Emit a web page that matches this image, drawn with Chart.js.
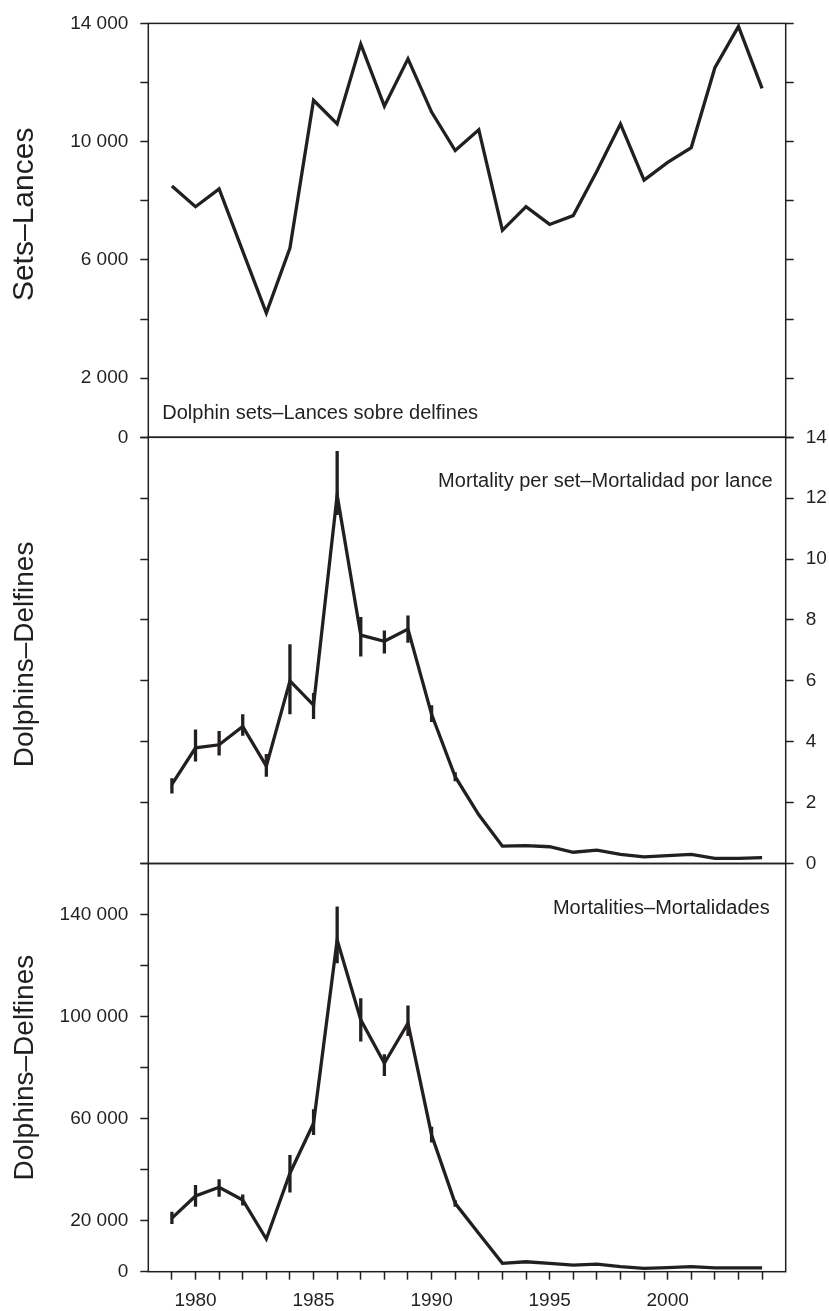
<!DOCTYPE html>
<html>
<head>
<meta charset="utf-8">
<script src="https://cdn.jsdelivr.net/npm/chart.js@4.4.1/dist/chart.umd.min.js"></script>
<style>
body { margin: 0; background: #fff; }
#wrap { position: relative; width: 829px; height: 1311px; }
canvas { position: absolute; left: 0; top: 0; }
</style>
</head>
<body>
<div id="wrap">
  <canvas id="setsChart" width="829" height="1311"></canvas>
  <canvas id="perSetChart" width="829" height="1311"></canvas>
  <canvas id="mortChart" width="829" height="1311"></canvas>
</div>
<script>
var years = [1979, 1980, 1981, 1982, 1983, 1984, 1985, 1986, 1987, 1988, 1989, 1990, 1991,
             1992, 1993, 1994, 1995, 1996, 1997, 1998, 1999, 2000, 2001, 2002, 2003, 2004];

// dolphin sets per year
var sets = [8500, 7800, 8400, 6300, 4200, 6400, 11400, 10600, 13300, 11200, 12800, 11000, 9700,
            10400, 7000, 7800, 7200, 7500, 9000, 10600, 8700, 9300, 9800, 12500, 13900, 11800];

// mortality per set, with error bar ends
var perSet = [2.6, 3.8, 3.9, 4.5, 3.2, 6.0, 5.2, 12.1, 7.5, 7.3, 7.7, 4.9, 2.85,
              1.6, 0.57, 0.59, 0.55, 0.37, 0.44, 0.3, 0.22, 0.26, 0.3, 0.17, 0.17, 0.19];
var perSetLow = [2.3, 3.35, 3.55, 4.2, 2.85, 4.9, 4.75, 11.45, 6.8, 6.9, 7.25, 4.65, 2.7,
                 null, null, null, null, null, null, null, null, null, null, null, null, null];
var perSetHigh = [2.8, 4.4, 4.35, 4.9, 3.6, 7.2, 5.6, 13.55, 8.1, 7.65, 8.15, 5.2, 3.0,
                  null, null, null, null, null, null, null, null, null, null, null, null, null];

// total mortalities, with error bar ends
var mortalities = [21000, 29700, 33100, 28100, 12800, 38600, 58200, 130000, 98700, 81700, 97400, 53600, 26800,
                   15000, 3300, 3900, 3300, 2600, 3000, 2000, 1300, 1600, 2000, 1500, 1500, 1500];
var mortLow = [18700, 25500, 29400, 25900, null, 31000, 53600, 120900, 90200, 76700, 92400, 50600, 25500,
               null, null, null, null, null, null, null, null, null, null, null, null, null];
var mortHigh = [23500, 34000, 36200, 30300, null, 45700, 63700, 143100, 107200, 85200, 104300, 56800, 28000,
                null, null, null, null, null, null, null, null, null, null, null, null, null];

var xTickLabels = [1980, 1985, 1990, 1995, 2000];
var setsTickLabels = [0, 2000, 6000, 10000, 14000];
var perSetTickLabels = [0, 2, 4, 6, 8, 10, 12, 14];
var mortTickLabels = [0, 20000, 60000, 100000, 140000];

var ink = '#231f20';
var family = '"Liberation Sans", Arial, Helvetica, sans-serif';
Chart.defaults.font.family = family;
Chart.defaults.color = ink;

// plot box edges on the page
var boxLeft = 148.3, boxRight = 785.7;

function fmt(v) {
    return String(v).replace(/\B(?=(\d{3})+(?!\d))/g, ' ');
}

function pts(vals) {
    return years.map(function (yr, i) { return { x: yr, y: vals[i] }; });
}

function lineSet(vals) {
    return {
        data: pts(vals),
        borderColor: ink,
        borderWidth: 3.3,
        pointRadius: 0,
        tension: 0,
        borderJoinStyle: 'miter'
    };
}

var tickGrid = { drawOnChartArea: false, drawTicks: true, tickLength: 8, tickWidth: 1.5, tickColor: ink };
var tickFont = { size: 19, family: family };

function yAxis(pos, max, step, labels) {
    return {
        position: pos,
        min: 0,
        max: max,
        ticks: {
            stepSize: step,
            padding: 12,
            font: tickFont,
            color: ink,
            callback: function (v) { return labels && labels.indexOf(v) >= 0 ? fmt(v) : ''; }
        },
        grid: tickGrid,
        border: { display: false },
        afterFit: function (s) { s.width = pos == 'left' ? boxLeft : 829 - boxRight; }
    };
}

// frame, error bars, in-panel note and rotated side title
function panel(cfg) {
    return {
        id: 'panel',
        afterDatasetsDraw: function (chart) {
            var ctx = chart.ctx, a = chart.chartArea;
            var xs = chart.scales.x, ys = chart.scales.y;
            ctx.save();
            ctx.strokeStyle = ink;
            if (cfg.low) {
                ctx.lineWidth = 3.3;
                ctx.beginPath();
                cfg.low.forEach(function (lo, i) {
                    if (lo == null) return;
                    var px = xs.getPixelForValue(years[i]);
                    ctx.moveTo(px, ys.getPixelForValue(lo));
                    ctx.lineTo(px, ys.getPixelForValue(cfg.high[i]));
                });
                ctx.stroke();
            }
            ctx.lineWidth = 1.5;
            ctx.strokeRect(a.left, a.top, a.right - a.left, a.bottom - a.top);

            ctx.fillStyle = ink;
            ctx.font = '20px ' + family;
            ctx.textBaseline = 'alphabetic';
            if (cfg.noteLeft) {
                ctx.textAlign = 'left';
                ctx.fillText(cfg.note, a.left + 14, a.bottom - 18);
            } else {
                ctx.textAlign = 'right';
                ctx.fillText(cfg.note, a.right - cfg.noteRight, a.top + 50);
            }

            ctx.font = cfg.titleSize + 'px ' + family;
            ctx.translate(25, (a.top + a.bottom) / 2 + cfg.titleDy);
            ctx.rotate(-Math.PI / 2);
            ctx.textAlign = 'center';
            ctx.textBaseline = 'middle';
            ctx.fillText(cfg.title, 0, 0);
            ctx.restore();
        }
    };
}

var baseOpts = {
    responsive: false,
    animation: false,
    devicePixelRatio: 1,
    plugins: { legend: { display: false }, tooltip: { enabled: false } }
};

function makeOpts(pad, scales) {
    return Object.assign({}, baseOpts, { layout: { padding: pad }, scales: scales });
}

var hiddenX = { type: 'linear', display: false, min: 1978, max: 2005 };

new Chart('setsChart', {
    type: 'line',
    data: { datasets: [lineSet(sets)] },
    options: makeOpts({ left: 0, right: 0, top: 12.3, bottom: 1311 - 437.3 }, {
        x: hiddenX,
        y: yAxis('left', 14000, 2000, setsTickLabels),
        y2: yAxis('right', 14000, 2000, null)
    }),
    plugins: [panel({ title: 'Sets–Lances', titleSize: 30, titleDy: -16,
                      note: 'Dolphin sets–Lances sobre delfines', noteLeft: true })]
});

new Chart('perSetChart', {
    type: 'line',
    data: { datasets: [lineSet(perSet)] },
    options: makeOpts({ left: 0, right: 0, top: 437.3, bottom: 1311 - 863.5 }, {
        x: hiddenX,
        y: yAxis('left', 14, 2, null),
        y2: yAxis('right', 14, 2, perSetTickLabels)
    }),
    plugins: [panel({ title: 'Dolphins–Delfines', titleSize: 28, titleDy: 4,
                      note: 'Mortality per set–Mortalidad por lance',
                      noteRight: 13, low: perSetLow, high: perSetHigh })]
});

new Chart('mortChart', {
    type: 'line',
    data: { datasets: [lineSet(mortalities)] },
    options: makeOpts({ left: 0, right: 0, top: 863.5, bottom: 0 }, {
        x: {
            type: 'linear',
            min: 1978,
            max: 2005,
            afterBuildTicks: function (s) { s.ticks = years.map(function (y) { return { value: y }; }); },
            ticks: {
                autoSkip: false,
                maxRotation: 0,
                padding: 10,
                font: tickFont,
                color: ink,
                callback: function (v) { return xTickLabels.indexOf(v) >= 0 ? String(v) : ''; }
            },
            grid: tickGrid,
            border: { display: false },
            afterFit: function (s) { s.height = 1311 - 1271.7; }
        },
        y: yAxis('left', 160000, 20000, mortTickLabels),
        y2: Object.assign(yAxis('right', 160000, 20000, null), { grid: { display: false } })
    }),
    plugins: [panel({ title: 'Dolphins–Delfines', titleSize: 28, titleDy: 0,
                      note: 'Mortalities–Mortalidades',
                      noteRight: 16, low: mortLow, high: mortHigh })]
});
</script>
</body>
</html>
